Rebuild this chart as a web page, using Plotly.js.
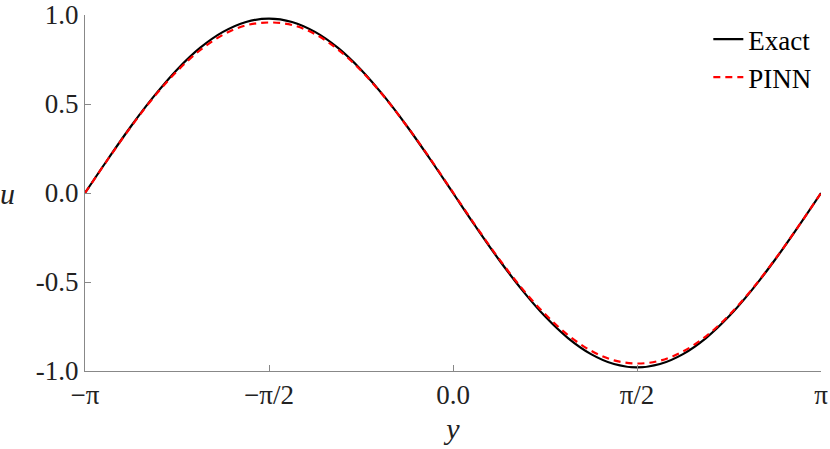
<!DOCTYPE html>
<html>
<head>
<meta charset="utf-8">
<script src="https://cdn.plot.ly/plotly-3.0.1.min.js"></script>
<style>html,body{margin:0;padding:0;background:#fff;}#chart{width:830px;height:449px;}</style>
</head>
<body>
<div id="chart"></div>
<script>
const yGrid = [-3.1416,-2.9452,-2.7489,-2.5525,-2.3562,-2.1598,-1.9635,-1.7671,-1.5708,-1.3744,-1.1781,-0.9817,-0.7854,-0.5890,-0.3927,-0.1963,0,0.1963,0.3927,0.5890,0.7854,0.9817,1.1781,1.3744,1.5708,1.7671,1.9635,2.1598,2.3562,2.5525,2.7489,2.9452,3.1416];
const exactU = [0,0.191,0.375,0.544,0.693,0.815,0.905,0.961,0.980,0.961,0.905,0.815,0.693,0.544,0.375,0.191,0,-0.191,-0.375,-0.544,-0.693,-0.815,-0.905,-0.961,-0.980,-0.961,-0.905,-0.815,-0.693,-0.544,-0.375,-0.191,0];
const pinnU = [0,0.190,0.372,0.540,0.684,0.802,0.889,0.942,0.958,0.944,0.893,0.806,0.688,0.542,0.375,0.194,0.003,-0.187,-0.370,-0.536,-0.680,-0.798,-0.886,-0.940,-0.958,-0.942,-0.890,-0.805,-0.687,-0.541,-0.373,-0.191,0];
const xTickVals = [-3.14159265,-1.57079633,0,1.57079633,3.14159265];
const xTickText = ["\u2212\u03c0","\u2212\u03c0/2","0.0","\u03c0/2","\u03c0"];
const yTickVals = [-1,-0.5,0,0.5,1];
const yTickText = ["-1.0","-0.5","0.0","0.5","1.0"];

const FONT = "Liberation Serif, serif";
const traces = [
  {x:yGrid, y:exactU, name:"Exact", mode:"lines", line:{color:"#000000", width:2.2, shape:"spline", smoothing:1}},
  {x:yGrid, y:pinnU, name:"PINN", mode:"lines", line:{color:"#ff0000", width:2.2, dash:"7px,5px", shape:"spline", smoothing:1}}
];
const layout = {
  width:830, height:449,
  margin:{l:85, r:9, t:15, b:78},
  paper_bgcolor:"#ffffff", plot_bgcolor:"#ffffff",
  font:{family:FONT, size:27, color:"#222222"},
  showlegend:true,
  legend:{x:0.995, xanchor:"right", y:1.0, yanchor:"top", bgcolor:"rgba(0,0,0,0)", font:{family:FONT, size:27, color:"#000"}, tracegroupgap:0, itemwidth:30},
  xaxis:{range:[-3.14159265,3.14159265], tickvals:xTickVals, ticktext:xTickText, ticks:"inside", ticklen:6, tickcolor:"#888888", showline:true, linecolor:"#888888", linewidth:1, showgrid:false, zeroline:false, mirror:false, ticklabeloverflow:"allow",
         title:{text:"<i>y</i>", font:{family:FONT, size:30, color:"#222"}, standoff:8}},
  yaxis:{range:[-1,1], tickvals:yTickVals, ticktext:yTickText, ticks:"inside", ticklen:6, tickcolor:"#888888", showline:true, linecolor:"#888888", linewidth:1, showgrid:false, zeroline:false, mirror:false, ticklabeloverflow:"allow"},
  annotations:[{text:"<i>u</i>", xref:"paper", yref:"paper", x:-0.105, y:0.5, xanchor:"center", yanchor:"middle", showarrow:false, font:{family:FONT, size:30, color:"#222"}}]
};
Plotly.newPlot("chart", traces, layout, {staticPlot:true, displayModeBar:false});
</script>
</body>
</html>
